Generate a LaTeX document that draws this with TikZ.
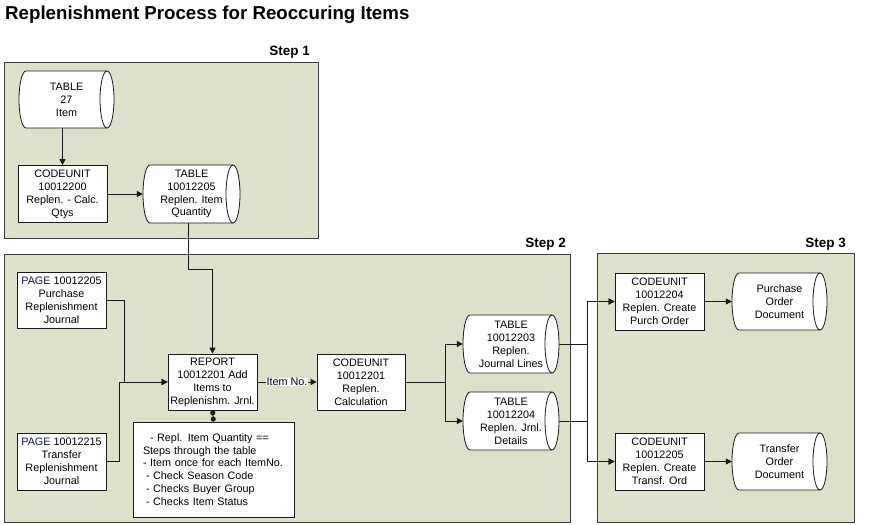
\documentclass[tikz,border=0pt]{standalone}
\usepackage{fontspec}
\setmainfont{Liberation Sans}
\usetikzlibrary{arrows.meta,positioning,calc}
\definecolor{stepgreen}{RGB}{221,225,204}
\definecolor{linecol}{RGB}{25,25,25}
\definecolor{framecol}{RGB}{60,60,60}
\definecolor{pagecol}{RGB}{20,20,90}
\tikzset{
  stepbox/.style={draw=framecol, fill=stepgreen, line width=1pt},
  steplabel/.style={font=\fontsize{13.5}{16}\selectfont\bfseries, anchor=base east, inner sep=0pt},
  boxfont/.style={font=\fontsize{10.8}{12.9}\selectfont},
  procbox/.style={boxfont, draw=linecol, fill=white, line width=0.8pt, align=center, inner sep=0pt, minimum width=89pt, minimum height=57pt},
  storeline/.style={draw=linecol, fill=white, line width=0.8pt},
  storetext/.style={boxfont, align=center, inner sep=0pt},
  conn/.style={draw=linecol, line width=1pt, -{Triangle[length=6pt,width=6pt]}},
  dotconn/.style={draw=linecol, line width=1pt, {Circle[length=5pt]}-{Circle[length=5pt]}},
}
\newcommand{\dbstore}[6]{%
  \pgfmathsetmacro{\dbl}{#2-#4/2}%
  \pgfmathsetmacro{\dbr}{#2+#4/2}%
  \pgfmathsetmacro{\dbt}{#3+#5/2}%
  \pgfmathsetmacro{\dbb}{#3-#5/2}%
  \pgfmathsetmacro{\dbh}{#5/2}%
  \draw[storeline] (\dbl+7,\dbt) -- (\dbr-7,\dbt) arc[start angle=90,end angle=-90,x radius=7pt,y radius=\dbh pt] -- (\dbl+7,\dbb) arc[start angle=270,end angle=90,x radius=7pt,y radius=\dbh pt] -- cycle;
  \draw[storeline, fill=none] (\dbr-7,\dbt) arc[start angle=90,end angle=270,x radius=7pt,y radius=\dbh pt];
  \node[storetext, minimum width=#4pt, minimum height=#5pt] (#1) at (#2,#3) {#6};
}
\begin{document}
\begin{tikzpicture}[x=1pt,y=1pt]
\useasboundingbox (0,0) rectangle (871,-525);
\fill[white] (0,0) rectangle (871,-525);

% title
\node[font=\fontsize{18.7}{22}\selectfont\bfseries, anchor=base west, inner sep=0pt] (title) at (5,-19) {Replenishment Process for Reoccuring Items};

% step frames
\draw[stepbox] (4,-62) rectangle (318,-238);
\draw[stepbox] (4,-254) rectangle (570,-522);
\draw[stepbox] (597,-253) rectangle (854,-522);
\node[steplabel] (s1) at (310,-55) {Step 1};
\node[steplabel] (s2) at (566,-247) {Step 2};
\node[steplabel] (s3) at (846,-247) {Step 3};

% step 1
\dbstore{t27}{66.5}{-99.5}{95}{57}{TABLE\\27\\Item}
\node[procbox] (cu200) at (62.5,-194) {CODEUNIT\\10012200\\Replen. - Calc.\\Qtys};
\dbstore{t205}{191.5}{-194}{97}{58}{TABLE\\10012205\\Replen. Item\\Quantity}

% step 2
\node[procbox, minimum height=56pt] (p205) at (61.5,-300) {{\color{pagecol}PAGE} 10012205\\Purchase\\Replenishment\\Journal};
\node[procbox] (p215) at (61.5,-461.5) {{\color{pagecol}PAGE} 10012215\\Transfer\\Replenishment\\Journal};
\node[procbox, minimum height=56pt] (report) at (212.5,-382) {REPORT\\10012201 Add\\Items to\\Replenishm. Jrnl.};
\node[procbox, minimum width=88pt, minimum height=56pt] (cu201) at (361,-382) {CODEUNIT\\10012201\\Replen.\\Calculation};
\node[boxfont, draw=linecol, fill=white, line width=0.8pt, align=left, inner xsep=10pt, inner ysep=0pt, text width=141pt, minimum height=95pt] (note) at (213.5,-469.5)
  {\hspace*{7pt}- Repl. Item Quantity ==\\Steps through the table\\- Item once for each ItemNo.\\\hspace*{3pt}- Check Season Code\\\hspace*{3pt}- Checks Buyer Group\\\hspace*{3pt}- Checks Item Status};
\dbstore{t203}{511}{-344}{96}{58}{TABLE\\10012203\\Replen.\\Journal Lines}
\dbstore{t204}{511}{-421}{96}{58}{TABLE\\10012204\\Replen. Jrnl.\\Details}

% step 3
\node[procbox] (cu204) at (659.5,-301.5) {CODEUNIT\\10012204\\Replen. Create\\Purch Order};
\node[procbox] (cu205) at (659.5,-461.5) {CODEUNIT\\10012205\\Replen. Create\\Transf. Ord};
\dbstore{pod}{779.5}{-301.5}{95}{57}{Purchase\\Order\\Document}
\dbstore{tod}{779.5}{-461.5}{95}{57}{Transfer\\Order\\Document}

% connectors
\draw[conn] (t27.south -| cu200.north) -- (cu200.north);
\draw[conn] (cu200.east) -- (t205.west);
\draw[conn] ([xshift=-3.5pt]t205.south) -- ++(0,-46) -| (report.north);
\draw[conn] (p205.east) -- ++(18,0) |- (report.west);
\draw[conn] (p215.east) -- ++(13,0) |- (report.west);
\draw[dotconn] (report.south) -- (note.north);
\draw[conn] (report.east) -- node[boxfont, fill=white, inner sep=0.5pt] (itemno) {Item No.} (cu201.west);
\draw[conn] (cu201.east) -- ++(40,0) |- (t203.west);
\draw[conn] (cu201.east) -- ++(40,0) |- (t204.west);
\draw[conn] (t203.east) -- ++(28,0) |- (cu204.west);
\draw[conn] (t203.east) -- ++(28,0) |- (cu205.west);
\draw[conn] (t204.east) -- ++(28,0) |- (cu204.west);
\draw[conn] (t204.east) -- ++(28,0) |- (cu205.west);
\draw[conn] (cu204.east) -- (pod.west);
\draw[conn] (cu205.east) -- (tod.west);
\end{tikzpicture}
\end{document}
